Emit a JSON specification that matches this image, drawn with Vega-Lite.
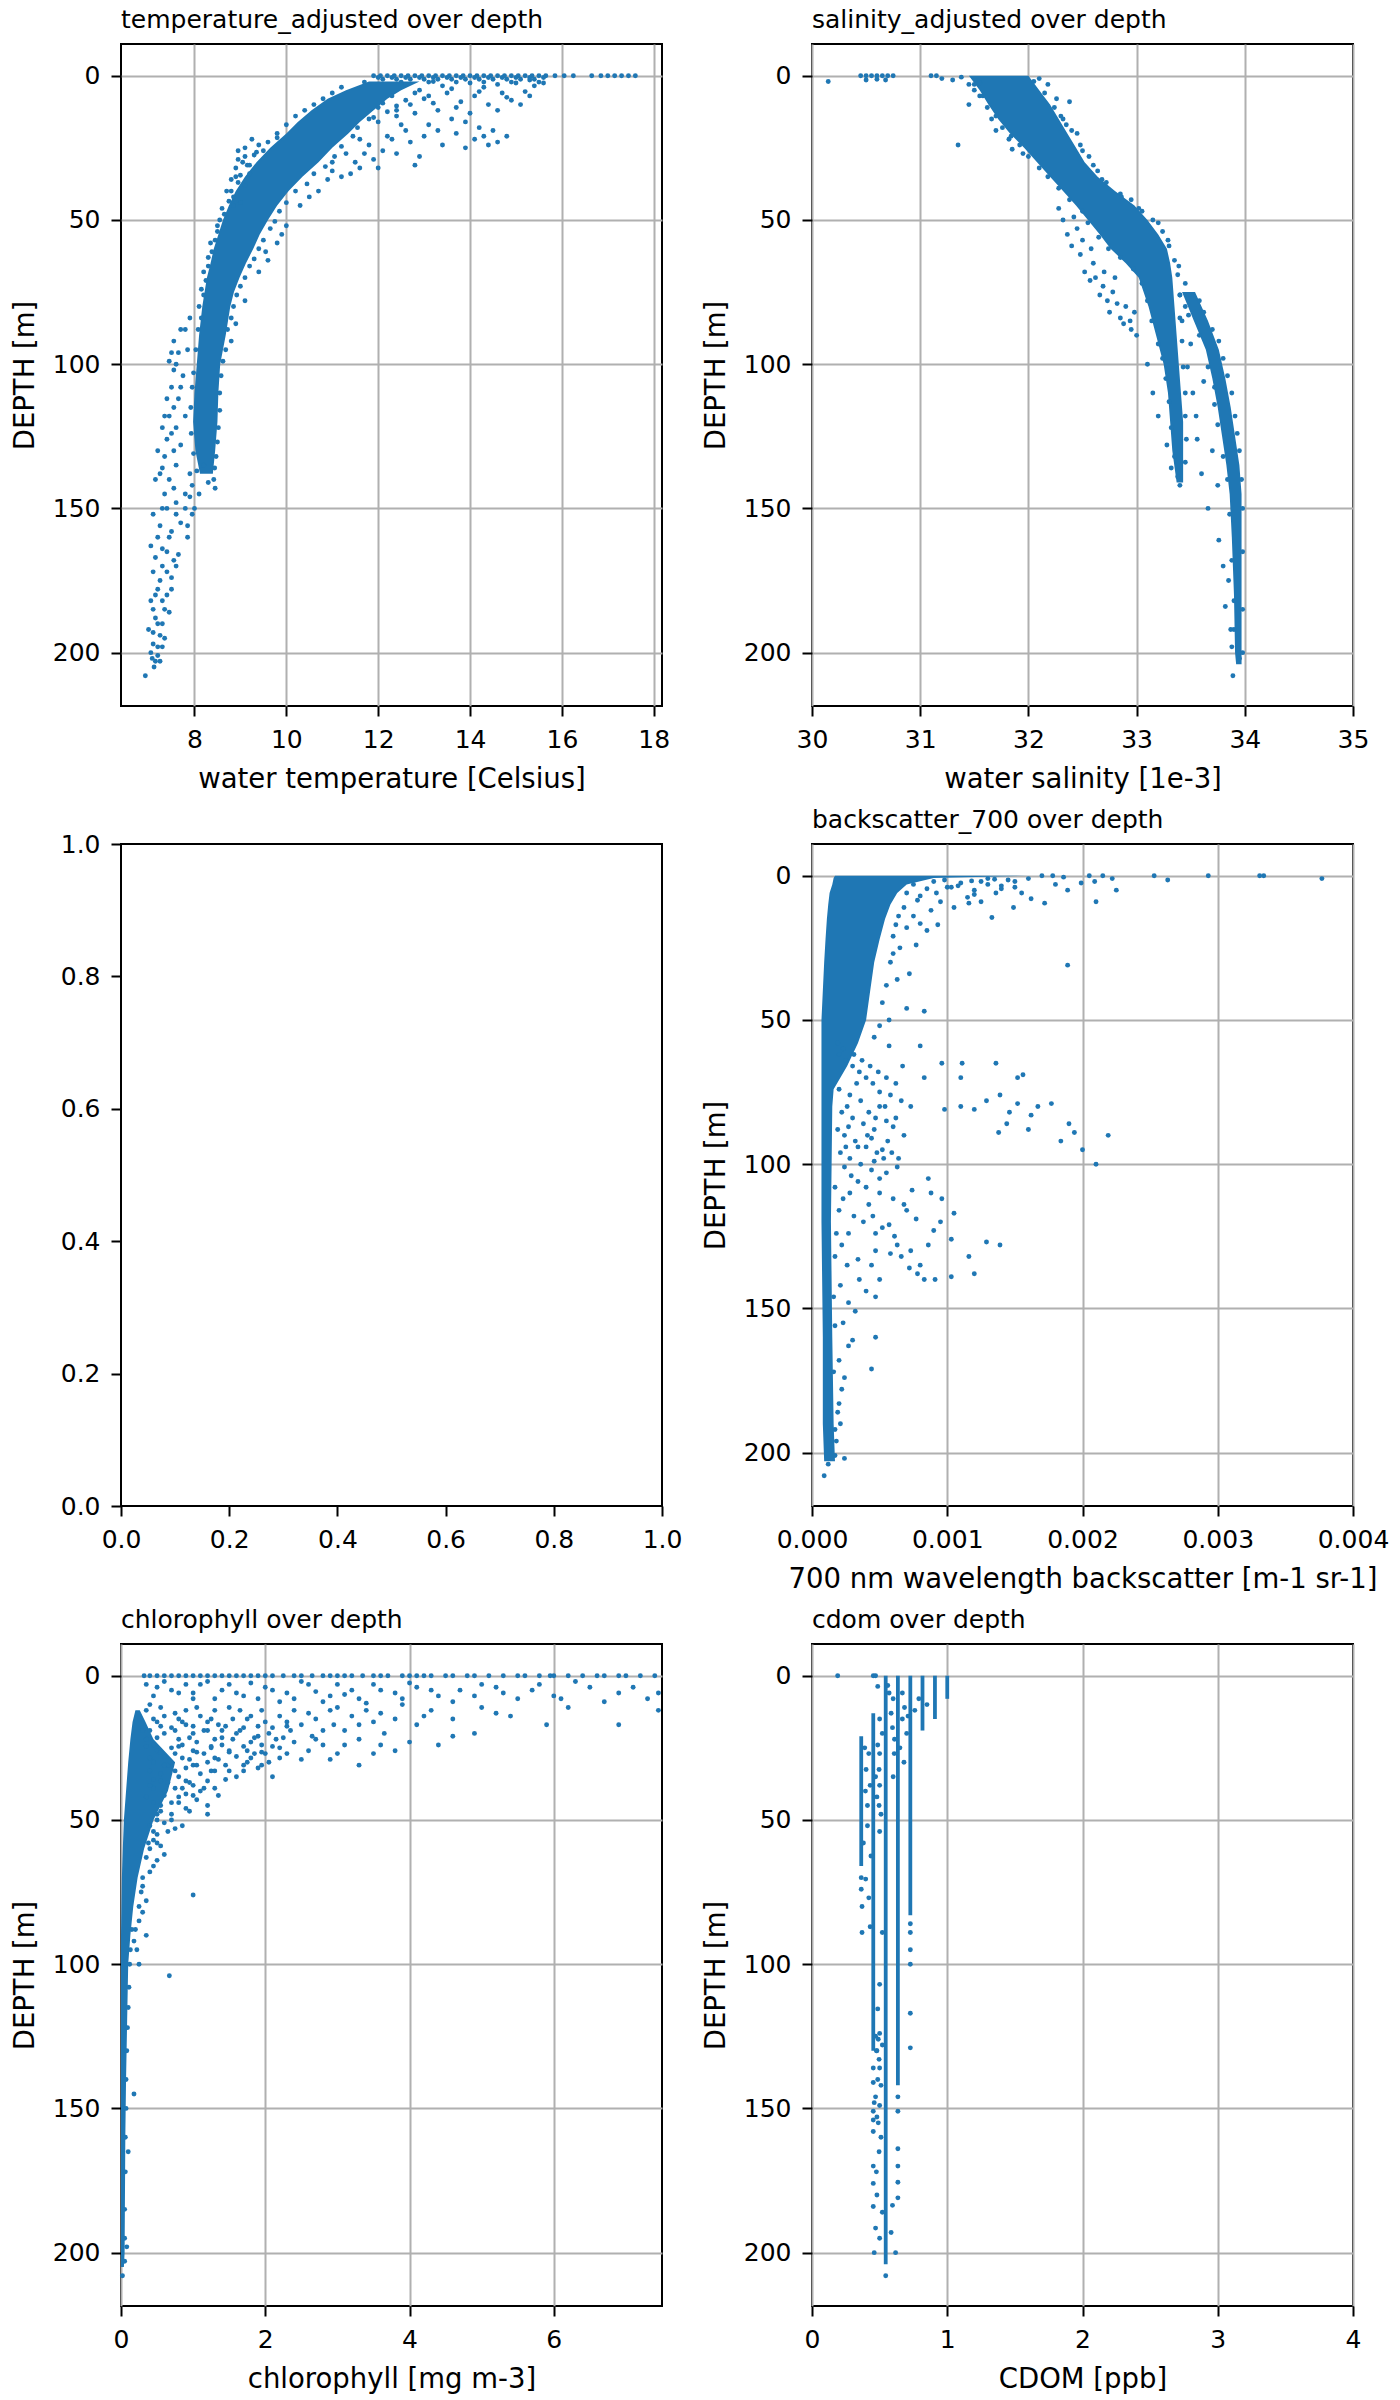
{
"$schema": "https://vega.github.io/schema/vega-lite/v6.json",
"background": "white",
"padding": {"left": 10, "top": 7, "right": 5, "bottom": 5},
"columns": 2,
"spacing": {"row": 138, "column": 150},
"bounds": "flush",
"datasets": {
"temp_band": [
{"s":"a","d":2,"lo":11.8,"hi":12.9},{"s":"a","d":5,"lo":11.3,"hi":12.5},{"s":"a","d":8,"lo":10.9,"hi":12.2},{"s":"a","d":12,"lo":10.55,"hi":11.9},{"s":"a","d":16,"lo":10.25,"hi":11.6},{"s":"a","d":20,"lo":10.0,"hi":11.35},{"s":"a","d":25,"lo":9.65,"hi":11.0},{"s":"a","d":30,"lo":9.35,"hi":10.7},{"s":"a","d":35,"lo":9.1,"hi":10.35},{"s":"a","d":40,"lo":8.9,"hi":10.05},{"s":"a","d":45,"lo":8.75,"hi":9.8},{"s":"a","d":50,"lo":8.62,"hi":9.6},{"s":"a","d":55,"lo":8.52,"hi":9.42},{"s":"a","d":60,"lo":8.42,"hi":9.28},{"s":"a","d":65,"lo":8.35,"hi":9.12},{"s":"a","d":70,"lo":8.27,"hi":8.98},{"s":"a","d":75,"lo":8.22,"hi":8.86},{"s":"a","d":80,"lo":8.17,"hi":8.78},{"s":"a","d":90,"lo":8.1,"hi":8.68},{"s":"a","d":100,"lo":8.05,"hi":8.56},{"s":"a","d":110,"lo":8.0,"hi":8.52},{"s":"a","d":120,"lo":7.97,"hi":8.5},{"s":"a","d":130,"lo":8.02,"hi":8.45},{"s":"a","d":138,"lo":8.12,"hi":8.4}
],
"temp_pts": [
{"v":11.9,"d":0},{"v":12.05,"d":0},{"v":12.2,"d":0},{"v":12.35,"d":0},{"v":12.5,"d":0},{"v":12.65,"d":0},{"v":12.8,"d":0},{"v":12.95,"d":0},{"v":13.1,"d":0},{"v":13.25,"d":0},{"v":13.4,"d":0},{"v":13.55,"d":0},{"v":13.7,"d":0},{"v":13.85,"d":0},{"v":14.0,"d":0},{"v":14.15,"d":0},{"v":14.3,"d":0},{"v":14.45,"d":0},{"v":14.6,"d":0},{"v":14.75,"d":0},{"v":14.9,"d":0},{"v":15.05,"d":0},{"v":15.2,"d":0},{"v":15.35,"d":0},{"v":15.5,"d":0},{"v":15.65,"d":0},{"v":15.85,"d":0},{"v":16.05,"d":0},{"v":16.25,"d":0},{"v":16.65,"d":0},{"v":16.85,"d":0},{"v":17.0,"d":0},{"v":17.15,"d":0},{"v":17.3,"d":0},{"v":17.45,"d":0},{"v":17.6,"d":0},
{"v":12.0,"d":0.6},{"v":12.3,"d":0.6},{"v":12.6,"d":0.6},{"v":12.9,"d":0.6},{"v":13.2,"d":0.6},{"v":13.5,"d":0.6},{"v":13.8,"d":0.6},{"v":14.1,"d":0.6},{"v":14.4,"d":0.6},{"v":14.7,"d":0.6},{"v":15.0,"d":0.6},{"v":15.3,"d":0.6},{"v":15.6,"d":0.6},
{"v":12.1,"d":1.2},{"v":12.4,"d":1.2},{"v":12.7,"d":1.2},{"v":13.0,"d":1.2},{"v":13.3,"d":1.2},{"v":13.6,"d":1.2},{"v":13.9,"d":1.2},{"v":14.2,"d":1.2},{"v":14.5,"d":1.2},{"v":14.8,"d":1.2},{"v":15.1,"d":1.2},{"v":15.4,"d":1.2},
{"v":11.7,"d":2.2},{"v":12.5,"d":2.2},{"v":13.1,"d":2.2},{"v":13.7,"d":2.2},{"v":14.3,"d":2.2},{"v":14.9,"d":2.2},{"v":15.5,"d":2.2},
{"v":12.9,"d":5},{"v":13.5,"d":6},{"v":14.1,"d":7},{"v":14.7,"d":6},{"v":15.2,"d":5.5},{"v":13.0,"d":8},{"v":13.8,"d":9},{"v":14.4,"d":10},{"v":12.7,"d":10},{"v":13.3,"d":12},{"v":14.9,"d":8.5},{"v":12.4,"d":12},{"v":12.6,"d":3},{"v":13.4,"d":3.5},{"v":14.0,"d":2.5},{"v":14.6,"d":3},{"v":15.0,"d":2.5},{"v":15.4,"d":3.5},{"v":14.3,"d":4},{"v":13.2,"d":2},{"v":15.3,"d":1.5},{"v":15.6,"d":2.5},{"v":12.3,"d":7},{"v":12.1,"d":9.5},
{"v":11.2,"d":4},{"v":11.0,"d":6},{"v":10.8,"d":8},{"v":10.6,"d":10},{"v":10.4,"d":12},{"v":12.8,"d":6},{"v":12.6,"d":8.5},{"v":12.4,"d":10.5},{"v":12.2,"d":12.5},{"v":11.9,"d":14.5},{"v":13.1,"d":7},{"v":13.6,"d":4.5},{"v":14.2,"d":5.5},{"v":14.8,"d":7.5},{"v":15.3,"d":7},{"v":13.7,"d":11},{"v":14.6,"d":12},{"v":15.1,"d":10},{"v":13.2,"d":9.5},
{"v":13.9,"d":16},{"v":14.2,"d":18},{"v":14.5,"d":19},{"v":14.8,"d":21},{"v":14.6,"d":23},{"v":14.3,"d":21},{"v":13.6,"d":15},{"v":13.1,"d":17},{"v":12.6,"d":19},{"v":12.3,"d":22},{"v":12.1,"d":26},{"v":12.9,"d":28},{"v":13.4,"d":24},{"v":11.8,"d":24},{"v":11.5,"d":30},{"v":11.2,"d":35},{"v":11.0,"d":33},{"v":11.7,"d":27},{"v":12.0,"d":16},{"v":12.4,"d":14},{"v":12.8,"d":13},{"v":13.3,"d":19},{"v":14.0,"d":13},
{"v":12.5,"d":17},{"v":12.2,"d":21},{"v":12.7,"d":23},{"v":11.9,"d":29},{"v":12.4,"d":27},{"v":11.6,"d":32},{"v":11.4,"d":34},{"v":12.0,"d":32},{"v":13.0,"d":21},{"v":13.7,"d":20},{"v":14.1,"d":22},{"v":14.4,"d":24},{"v":13.9,"d":25},{"v":12.8,"d":31},
{"v":11.0,"d":30},{"v":10.7,"d":40},{"v":10.3,"d":45},{"v":10.0,"d":52},{"v":9.8,"d":58},{"v":9.6,"d":64},{"v":9.4,"d":68},{"v":9.1,"d":78},{"v":8.9,"d":86},{"v":8.8,"d":92},{"v":11.6,"d":22},{"v":11.3,"d":27},{"v":10.9,"d":36},{"v":10.5,"d":42},{"v":9.9,"d":55},{"v":9.55,"d":61},
{"v":12.0,"d":11},{"v":11.8,"d":15},{"v":11.55,"d":18},{"v":11.45,"d":21},{"v":11.2,"d":24.5},{"v":11.05,"d":28},{"v":10.85,"d":31.5},{"v":10.6,"d":34},{"v":10.45,"d":37.5},{"v":10.2,"d":40},{"v":10.0,"d":44},{"v":9.85,"d":47},{"v":9.75,"d":50.5},{"v":9.65,"d":53},{"v":9.5,"d":57},{"v":9.4,"d":60},{"v":9.3,"d":63.5},{"v":9.2,"d":66},{"v":9.1,"d":70},{"v":9.0,"d":73},{"v":8.92,"d":76},{"v":8.85,"d":80},{"v":8.8,"d":84},{"v":8.72,"d":88},{"v":8.68,"d":95},{"v":8.62,"d":99},{"v":8.58,"d":104},{"v":8.55,"d":110},{"v":8.55,"d":116},{"v":8.52,"d":122},{"v":8.5,"d":127},{"v":8.47,"d":132},{"v":8.44,"d":136},{"v":8.42,"d":140},
{"v":9.8,"d":20},{"v":9.4,"d":24},{"v":9.1,"d":28},{"v":8.9,"d":32},{"v":8.8,"d":36},{"v":8.7,"d":40},{"v":8.6,"d":46},{"v":8.5,"d":52},{"v":8.35,"d":58},{"v":8.3,"d":63},{"v":8.2,"d":68},{"v":8.15,"d":74},{"v":8.1,"d":80},{"v":8.95,"d":26},{"v":9.05,"d":30},{"v":9.2,"d":34},{"v":8.85,"d":42},
{"v":10.2,"d":14},{"v":10.0,"d":17},{"v":9.8,"d":21.5},{"v":9.6,"d":23},{"v":9.5,"d":26},{"v":9.3,"d":27.5},{"v":9.15,"d":31},{"v":9.0,"d":34.5},{"v":8.95,"d":37},{"v":8.8,"d":40},{"v":8.75,"d":43.5},{"v":8.65,"d":48},{"v":8.55,"d":50},{"v":8.5,"d":54},{"v":8.45,"d":57},{"v":8.38,"d":61},{"v":8.3,"d":66},{"v":8.25,"d":71},{"v":8.2,"d":76},{"v":8.15,"d":84},{"v":8.08,"d":88},{"v":8.03,"d":95},{"v":7.98,"d":103},{"v":7.95,"d":108},{"v":7.92,"d":115},{"v":7.93,"d":124},{"v":7.98,"d":131},{"v":8.05,"d":137},
{"v":9.25,"d":22},{"v":9.1,"d":25},{"v":9.35,"d":26.5},{"v":8.95,"d":29},{"v":9.2,"d":31},{"v":8.9,"d":35},{"v":9.1,"d":38},{"v":8.85,"d":45},{"v":9.0,"d":44},
{"v":7.9,"d":84},{"v":7.7,"d":88},{"v":7.55,"d":92},{"v":7.5,"d":96},{"v":7.45,"d":99},{"v":7.6,"d":100},{"v":7.75,"d":104},{"v":7.5,"d":108},{"v":7.4,"d":112},{"v":7.65,"d":112},{"v":7.45,"d":118},{"v":7.3,"d":122},{"v":7.6,"d":122},{"v":7.4,"d":126},{"v":7.2,"d":130},{"v":7.55,"d":130},{"v":7.3,"d":136},{"v":7.15,"d":140},{"v":7.45,"d":140},{"v":7.9,"d":138},{"v":7.8,"d":145},{"v":7.6,"d":148},{"v":7.3,"d":150},{"v":7.1,"d":152},{"v":7.95,"d":152},{"v":7.7,"d":155},{"v":7.5,"d":158},{"v":7.2,"d":160},{"v":7.05,"d":163},{"v":7.4,"d":165},{"v":7.65,"d":166},{"v":7.3,"d":170},{"v":7.1,"d":172},{"v":7.5,"d":174},{"v":7.2,"d":178},{"v":7.05,"d":182},{"v":7.35,"d":185},{"v":7.15,"d":188},{"v":7.0,"d":192},{"v":7.25,"d":194},{"v":7.1,"d":197},{"v":7.05,"d":200},{"v":7.2,"d":201},{"v":7.15,"d":203},{"v":6.93,"d":208},{"v":7.3,"d":190},{"v":7.5,"d":178},{"v":7.85,"d":160},{"v":8.0,"d":150},{"v":7.95,"d":142},{"v":8.2,"d":135},{"v":8.3,"d":141},{"v":8.45,"d":143},{"v":8.1,"d":145},{"v":7.85,"d":95},{"v":7.8,"d":118},{"v":7.7,"d":128},{"v":7.6,"d":135},{"v":7.35,"d":145},{"v":7.25,"d":156},{"v":7.55,"d":168},{"v":7.4,"d":180},{"v":7.1,"d":185},{"v":7.3,"d":198},{"v":7.12,"d":205},
{"v":7.8,"d":88},{"v":7.65,"d":96},{"v":7.55,"d":102},{"v":7.7,"d":108},{"v":7.55,"d":115},{"v":7.35,"d":118},{"v":7.5,"d":124},{"v":7.35,"d":132},{"v":7.25,"d":138},{"v":7.55,"d":143},{"v":7.4,"d":150},{"v":7.6,"d":152},{"v":7.85,"d":156},{"v":7.45,"d":160},{"v":7.3,"d":164},{"v":7.15,"d":167},{"v":7.6,"d":170},{"v":7.4,"d":172},{"v":7.25,"d":175},{"v":7.15,"d":180},{"v":7.3,"d":182},{"v":7.45,"d":186},{"v":7.2,"d":190},{"v":7.1,"d":193},{"v":7.35,"d":195},{"v":7.2,"d":198},{"v":7.08,"d":202},{"v":7.25,"d":203},{"v":7.8,"d":150},{"v":7.9,"d":146}
],
"sal_band": [
{"s":"a","d":0,"lo":31.45,"hi":32.0},{"s":"a","d":5,"lo":31.55,"hi":32.1},{"s":"a","d":10,"lo":31.63,"hi":32.2},{"s":"a","d":15,"lo":31.72,"hi":32.28},{"s":"a","d":20,"lo":31.83,"hi":32.36},{"s":"a","d":25,"lo":31.96,"hi":32.44},{"s":"a","d":30,"lo":32.08,"hi":32.52},{"s":"a","d":35,"lo":32.2,"hi":32.64},{"s":"a","d":40,"lo":32.32,"hi":32.8},{"s":"a","d":45,"lo":32.44,"hi":32.98},{"s":"a","d":50,"lo":32.55,"hi":33.1},{"s":"a","d":55,"lo":32.66,"hi":33.2},{"s":"a","d":60,"lo":32.76,"hi":33.28},{"s":"a","d":65,"lo":32.9,"hi":33.31},{"s":"a","d":70,"lo":33.02,"hi":33.33},{"s":"a","d":80,"lo":33.11,"hi":33.35},{"s":"a","d":90,"lo":33.18,"hi":33.37},{"s":"a","d":100,"lo":33.25,"hi":33.39},{"s":"a","d":110,"lo":33.29,"hi":33.41},{"s":"a","d":120,"lo":33.31,"hi":33.43},{"s":"a","d":130,"lo":33.33,"hi":33.43},{"s":"a","d":141,"lo":33.37,"hi":33.43},
{"s":"b","d":75,"lo":33.42,"hi":33.54},{"s":"b","d":85,"lo":33.53,"hi":33.66},{"s":"b","d":95,"lo":33.64,"hi":33.76},{"s":"b","d":105,"lo":33.7,"hi":33.82},{"s":"b","d":115,"lo":33.75,"hi":33.87},{"s":"b","d":125,"lo":33.79,"hi":33.91},{"s":"b","d":135,"lo":33.83,"hi":33.95},{"s":"b","d":145,"lo":33.86,"hi":33.97},{"s":"b","d":160,"lo":33.88,"hi":33.97},{"s":"b","d":180,"lo":33.9,"hi":33.97},{"s":"b","d":200,"lo":33.91,"hi":33.97},{"s":"b","d":204,"lo":33.92,"hi":33.97}
],
"sal_pts": [
{"v":30.15,"d":2},{"v":30.45,"d":0},{"v":30.5,"d":0},{"v":30.55,"d":0},{"v":30.6,"d":0},{"v":30.65,"d":0},{"v":30.7,"d":0},{"v":30.75,"d":0},{"v":30.5,"d":1.5},{"v":30.6,"d":1.2},{"v":30.68,"d":1.5},{"v":31.1,"d":0},{"v":31.15,"d":0},{"v":31.2,"d":1},{"v":31.3,"d":1.5},{"v":31.38,"d":0.5},{"v":31.55,"d":2.5},{"v":31.45,"d":3},
{"v":31.45,"d":10},{"v":31.35,"d":24},{"v":31.82,"d":22},{"v":31.95,"d":27},{"v":31.66,"d":15},{"v":31.55,"d":7},{"v":31.7,"d":19},{"v":31.85,"d":25.5},{"v":31.5,"d":5},
{"v":32.26,"d":8},{"v":32.38,"d":9},{"v":32.3,"d":14},{"v":32.45,"d":20},{"v":32.5,"d":26},{"v":32.6,"d":31},{"v":32.68,"d":36},{"v":32.85,"d":41},{"v":33.2,"d":51},{"v":33.29,"d":57},{"v":33.39,"d":66},{"v":32.18,"d":3},{"v":32.1,"d":1},{"v":32.35,"d":17},{"v":33.05,"d":47},{"v":32.95,"d":43},
{"v":32.32,"d":50},{"v":32.4,"d":59},{"v":32.52,"d":68},{"v":32.69,"d":73},{"v":32.85,"d":84},{"v":32.94,"d":85},{"v":32.57,"d":71},{"v":32.36,"d":55},{"v":32.48,"d":62},{"v":32.73,"d":78},{"v":32.9,"d":80},{"v":32.45,"d":53},{"v":32.6,"d":65},{"v":32.78,"d":75},{"v":32.98,"d":82},
{"v":32.28,"d":46},{"v":32.42,"d":49},{"v":32.5,"d":57},{"v":32.58,"d":60},{"v":32.62,"d":70},{"v":32.7,"d":68},{"v":32.8,"d":70},{"v":32.82,"d":79},{"v":32.88,"d":86},{"v":32.95,"d":88},{"v":32.75,"d":82},{"v":32.66,"d":76},
{"v":33.56,"d":126},{"v":33.6,"d":138},{"v":33.66,"d":150},{"v":33.76,"d":161},{"v":33.8,"d":170},{"v":33.82,"d":184},{"v":33.87,"d":192},{"v":33.89,"d":208},{"v":33.52,"d":110},{"v":33.47,"d":101},{"v":33.72,"d":114},{"v":33.5,"d":93},{"v":33.45,"d":80},{"v":33.55,"d":118},{"v":33.62,"d":106},{"v":33.7,"d":130},{"v":33.75,"d":142},{"v":33.85,"d":175},{"v":33.88,"d":198},{"v":33.95,"d":202},
{"v":33.0,"d":90},{"v":33.1,"d":100},{"v":33.15,"d":110},{"v":33.2,"d":118},{"v":33.28,"d":128},{"v":33.32,"d":136},{"v":33.4,"d":142},{"v":33.45,"d":72},{"v":33.42,"d":85},
{"v":31.5,"d":3},{"v":31.58,"d":7},{"v":31.62,"d":11},{"v":31.7,"d":14},{"v":31.76,"d":18},{"v":31.84,"d":21},{"v":31.92,"d":24},{"v":32.0,"d":28},{"v":32.1,"d":32},{"v":32.18,"d":35},{"v":32.28,"d":39},{"v":32.38,"d":43},{"v":32.5,"d":47},{"v":32.55,"d":51},{"v":32.65,"d":56},{"v":32.74,"d":60},{"v":32.85,"d":63},{"v":32.97,"d":67},{"v":33.05,"d":72},{"v":33.1,"d":78},{"v":33.14,"d":85},{"v":33.2,"d":93},{"v":33.24,"d":98},{"v":33.27,"d":105},{"v":33.3,"d":113},{"v":33.32,"d":122},{"v":33.35,"d":132},{"v":33.38,"d":139},
{"v":32.05,"d":2},{"v":32.15,"d":6},{"v":32.24,"d":11},{"v":32.32,"d":15},{"v":32.4,"d":19},{"v":32.48,"d":24},{"v":32.56,"d":28},{"v":32.64,"d":33},{"v":32.72,"d":37},{"v":32.86,"d":42},{"v":33.02,"d":46},{"v":33.15,"d":50},{"v":33.24,"d":54},{"v":33.3,"d":59},{"v":33.35,"d":64},{"v":33.38,"d":69},{"v":33.4,"d":76},{"v":33.4,"d":84},{"v":33.42,"d":92},{"v":33.43,"d":101},{"v":33.45,"d":110},{"v":33.45,"d":118},{"v":33.46,"d":126},{"v":33.45,"d":134},
{"v":33.58,"d":78},{"v":33.62,"d":82},{"v":33.7,"d":88},{"v":33.76,"d":92},{"v":33.8,"d":98},{"v":33.84,"d":104},{"v":33.88,"d":110},{"v":33.91,"d":118},{"v":33.93,"d":124},{"v":33.95,"d":130},{"v":33.97,"d":140},{"v":33.98,"d":150},{"v":33.98,"d":165},{"v":33.98,"d":185},{"v":33.98,"d":200},{"v":33.4,"d":76},{"v":33.48,"d":83},{"v":33.58,"d":90},{"v":33.66,"d":101},{"v":33.72,"d":108},{"v":33.75,"d":121},{"v":33.8,"d":132},{"v":33.84,"d":140},{"v":33.86,"d":152},{"v":33.88,"d":168},{"v":33.9,"d":182},{"v":33.9,"d":192}
],
"bs_band": [
{"s":"a","d":0,"lo":0.00017,"hi":0.0016},{"s":"a","d":0.8,"lo":0.00016,"hi":0.0009},{"s":"a","d":3,"lo":0.00015,"hi":0.0007},{"s":"a","d":6,"lo":0.00013,"hi":0.00063},{"s":"a","d":10,"lo":0.00012,"hi":0.00058},{"s":"a","d":15,"lo":0.00011,"hi":0.00054},{"s":"a","d":22,"lo":0.0001,"hi":0.0005},{"s":"a","d":30,"lo":0.00009,"hi":0.00046},{"s":"a","d":40,"lo":0.00008,"hi":0.00043},{"s":"a","d":50,"lo":0.00007,"hi":0.0004},{"s":"a","d":58,"lo":0.00007,"hi":0.00034},{"s":"a","d":66,"lo":0.00007,"hi":0.00026},{"s":"a","d":74,"lo":0.00007,"hi":0.00016},{"s":"a","d":80,"lo":0.00007,"hi":0.00015},{"s":"a","d":120,"lo":0.00007,"hi":0.00014},{"s":"a","d":160,"lo":0.00008,"hi":0.00015},{"s":"a","d":190,"lo":0.00008,"hi":0.00016},{"s":"a","d":203,"lo":0.00009,"hi":0.00017}
],
"bs_pts": [
{"v":0.00057,"d":59},{"v":0.00067,"d":66},{"v":0.00083,"d":70},{"v":0.00096,"d":65},{"v":0.00111,"d":65},{"v":0.00136,"d":65},{"v":0.00152,"d":70},{"v":0.00156,"d":69},{"v":0.0011,"d":70},{"v":0.00073,"d":80},{"v":0.00098,"d":81},{"v":0.0011,"d":80},{"v":0.0012,"d":81},{"v":0.00129,"d":78},{"v":0.00139,"d":76},{"v":0.00146,"d":82},{"v":0.00152,"d":79},{"v":0.00162,"d":83},{"v":0.00167,"d":80},{"v":0.00177,"d":79},{"v":0.00144,"d":86},{"v":0.00138,"d":89},{"v":0.0016,"d":88},{"v":0.0019,"d":86},{"v":0.00194,"d":89},{"v":0.00184,"d":92},{"v":0.00219,"d":90},{"v":0.002,"d":95},{"v":0.0021,"d":100},{"v":0.00189,"d":31},
{"v":0.0005,"d":80},{"v":0.0006,"d":87},{"v":0.00044,"d":91},{"v":0.00053,"d":98},{"v":0.00063,"d":101},{"v":0.0005,"d":105},{"v":0.0004,"d":108},{"v":0.0006,"d":112},{"v":0.0007,"d":116},{"v":0.00077,"d":119},{"v":0.00086,"d":105},{"v":0.00096,"d":112},{"v":0.00105,"d":117},{"v":0.0009,"d":123},{"v":0.00103,"d":126},{"v":0.00116,"d":132},{"v":0.0012,"d":138},{"v":0.00129,"d":127},{"v":0.00139,"d":128},{"v":0.00073,"d":130},{"v":0.0008,"d":135},{"v":0.00083,"d":140},{"v":0.00103,"d":139},{"v":0.00091,"d":140},{"v":0.00063,"d":128},{"v":0.00057,"d":121},{"v":0.00047,"d":130},{"v":0.00034,"d":133},{"v":0.0005,"d":140},{"v":0.00027,"d":124},{"v":0.0002,"d":116},{"v":0.00017,"d":108},{"v":0.00024,"d":101},{"v":0.00034,"d":94},{"v":0.00027,"d":87},
{"v":0.0004,"d":144},{"v":0.00047,"d":146},{"v":0.00032,"d":151},{"v":0.00047,"d":160},{"v":0.00044,"d":171},{"v":0.0003,"d":161},{"v":0.00024,"d":174},{"v":0.0002,"d":183},{"v":0.00017,"d":192},{"v":0.00024,"d":202},{"v":0.00019,"d":186},{"v":0.00027,"d":163},{"v":0.00017,"d":156},{"v":0.00009,"d":208},{"v":0.00012,"d":204},{"v":0.00017,"d":201},
{"v":0.00222,"d":1},{"v":0.00225,"d":5},{"v":0.00253,"d":0},{"v":0.00263,"d":1.5},{"v":0.00293,"d":0},{"v":0.00331,"d":0},{"v":0.00334,"d":0},{"v":0.00377,"d":1},{"v":0.00209,"d":2},{"v":0.00199,"d":2.5},{"v":0.00172,"d":9.5},{"v":0.00189,"d":5},{"v":0.0021,"d":9},{"v":0.00162,"d":8},{"v":0.00133,"d":14.5},{"v":0.00149,"d":11},{"v":0.00116,"d":9.5},{"v":0.00093,"d":17},{"v":0.0008,"d":16.6},{"v":0.00072,"d":34},{"v":0.00063,"d":36},{"v":0.00083,"d":47},{"v":0.0007,"d":46},{"v":0.00057,"d":50},{"v":0.0008,"d":59},{"v":0.0006,"d":27},{"v":0.00077,"d":24},{"v":0.00103,"d":4},{"v":0.00136,"d":6},{"v":0.0017,"d":0},{"v":0.00178,"d":0},{"v":0.00186,"d":0.5},{"v":0.00205,"d":0},{"v":0.00215,"d":0},{"v":0.0018,"d":3},{"v":0.0014,"d":3.5},{"v":0.0012,"d":6.5},
{"v":0.0009,"d":2},{"v":0.001,"d":4},{"v":0.0011,"d":2.5},{"v":0.0012,"d":5},{"v":0.0013,"d":3},{"v":0.0014,"d":4.5},{"v":0.0015,"d":2},{"v":0.00155,"d":6},{"v":0.0008,"d":7},{"v":0.00095,"d":9},{"v":0.00105,"d":11},{"v":0.00115,"d":7.5},{"v":0.00125,"d":9},{"v":0.00088,"d":12},{"v":0.00075,"d":14},{"v":0.0007,"d":18},{"v":0.00085,"d":19},{"v":0.0006,"d":21},{"v":0.00065,"d":25},{"v":0.00058,"d":30},{"v":0.00055,"d":38},{"v":0.00052,"d":44},{"v":0.0005,"d":52},{"v":0.00046,"d":56},{"v":0.0016,"d":1},{"v":0.00145,"d":1.5},{"v":0.0013,"d":1},{"v":0.00118,"d":1.8},
{"v":0.00075,"d":3},{"v":0.00085,"d":4.5},{"v":0.0007,"d":6},{"v":0.00078,"d":8.5},{"v":0.00068,"d":11},{"v":0.00064,"d":14},{"v":0.00062,"d":17},{"v":0.00098,"d":1.5},{"v":0.00108,"d":3.5},{"v":0.00092,"d":6},{"v":0.00125,"d":2},{"v":0.00135,"d":1.2},{"v":0.0015,"d":4},
{"v":0.0002,"d":62},{"v":0.00025,"d":64},{"v":0.0003,"d":66},{"v":0.00035,"d":68},{"v":0.0004,"d":70},{"v":0.00045,"d":72},{"v":0.0002,"d":74},{"v":0.00028,"d":76},{"v":0.00036,"d":78},{"v":0.00042,"d":82},{"v":0.00022,"d":82},{"v":0.0003,"d":84},{"v":0.00038,"d":86},{"v":0.00046,"d":88},{"v":0.00024,"d":90},{"v":0.00032,"d":92},{"v":0.0004,"d":94},{"v":0.00048,"d":96},{"v":0.00028,"d":98},{"v":0.00036,"d":100},{"v":0.00044,"d":102},{"v":0.00052,"d":95},{"v":0.00055,"d":85},{"v":0.0005,"d":75},{"v":0.00033,"d":72},{"v":0.00026,"d":80},{"v":0.00041,"d":90},{"v":0.00034,"d":106},{"v":0.0005,"d":110},{"v":0.00042,"d":114},{"v":0.00028,"d":110},{"v":0.00038,"d":120},{"v":0.00047,"d":124},
{"v":0.00019,"d":58},{"v":0.00023,"d":60},{"v":0.00031,"d":62},{"v":0.00037,"d":64},{"v":0.00043,"d":66},{"v":0.00049,"d":68},{"v":0.00055,"d":70},{"v":0.00062,"d":72},{"v":0.00058,"d":76},{"v":0.00066,"d":78},{"v":0.00054,"d":80},{"v":0.00047,"d":84},{"v":0.00062,"d":84},{"v":0.00068,"d":90},{"v":0.00056,"d":92},{"v":0.00059,"d":96},{"v":0.00064,"d":98},{"v":0.00055,"d":103},{"v":0.00046,"d":99},{"v":0.00021,"d":96},{"v":0.00019,"d":88},{"v":0.00025,"d":94},{"v":0.00029,"d":104},{"v":0.00023,"d":112},{"v":0.00031,"d":118},{"v":0.00045,"d":118},{"v":0.00052,"d":122},{"v":0.00061,"d":125},{"v":0.00066,"d":132},{"v":0.00072,"d":136},{"v":0.00078,"d":138},{"v":0.00086,"d":128},{"v":0.00095,"d":120},{"v":0.00088,"d":110},{"v":0.00074,"d":109},{"v":0.00068,"d":114},{"v":0.00058,"d":131},{"v":0.00044,"d":135},{"v":0.00035,"d":140},{"v":0.00026,"d":135},{"v":0.00022,"d":128},{"v":0.00021,"d":142},{"v":0.00027,"d":148},{"v":0.00023,"d":155},{"v":0.0002,"d":168},{"v":0.00022,"d":178},{"v":0.00018,"d":196},{"v":0.00021,"d":190},{"v":0.00016,"d":172},{"v":0.00016,"d":146},{"v":0.00017,"d":132},{"v":0.00018,"d":124}
],
"chl_band": [
{"s":"a","d":12,"lo":0.2,"hi":0.26},{"s":"a","d":16,"lo":0.16,"hi":0.34},{"s":"a","d":22,"lo":0.13,"hi":0.45},{"s":"a","d":30,"lo":0.1,"hi":0.75},{"s":"a","d":40,"lo":0.07,"hi":0.65},{"s":"a","d":50,"lo":0.04,"hi":0.45},{"s":"a","d":60,"lo":0.025,"hi":0.32},{"s":"a","d":70,"lo":0.012,"hi":0.23},{"s":"a","d":80,"lo":0.006,"hi":0.17},{"s":"a","d":90,"lo":0.0,"hi":0.13},{"s":"a","d":100,"lo":0.0,"hi":0.1},{"s":"a","d":120,"lo":0.0,"hi":0.085},{"s":"a","d":140,"lo":0.0,"hi":0.07},{"s":"a","d":160,"lo":0.0,"hi":0.06},{"s":"a","d":200,"lo":0.0,"hi":0.05},{"s":"a","d":205,"lo":0.0,"hi":0.04}
],
"chl_pts": [
{"v":0.32,"d":0},{"v":0.4,"d":0},{"v":0.5,"d":0},{"v":0.6,"d":0},{"v":0.7,"d":0},{"v":0.8,"d":0},{"v":0.9,"d":0},{"v":1.0,"d":0},{"v":1.1,"d":0},{"v":1.2,"d":0},{"v":1.3,"d":0},{"v":1.4,"d":0},{"v":1.5,"d":0},{"v":1.6,"d":0},{"v":1.7,"d":0},{"v":1.8,"d":0},{"v":1.9,"d":0},{"v":2.0,"d":0},{"v":2.1,"d":0},{"v":2.25,"d":0},{"v":2.4,"d":0},{"v":2.5,"d":0},{"v":2.65,"d":0},{"v":2.8,"d":0},{"v":2.9,"d":0},{"v":3.0,"d":0},{"v":3.1,"d":0},{"v":3.2,"d":0},{"v":3.35,"d":0},{"v":3.5,"d":0},{"v":3.6,"d":0},{"v":3.7,"d":0},{"v":3.9,"d":0},{"v":4.0,"d":0},{"v":4.1,"d":0},{"v":4.2,"d":0},{"v":4.3,"d":0},{"v":4.5,"d":0},{"v":4.6,"d":0},{"v":4.8,"d":0},{"v":4.9,"d":0},{"v":5.1,"d":0},{"v":5.3,"d":0},{"v":5.5,"d":0},{"v":5.6,"d":0},{"v":5.8,"d":0},{"v":5.95,"d":0},{"v":6.0,"d":0},{"v":6.2,"d":0},{"v":6.4,"d":0},{"v":6.6,"d":0},{"v":6.7,"d":0},{"v":6.9,"d":0},{"v":7.0,"d":0},{"v":7.2,"d":0},{"v":7.4,"d":0},
{"v":0.5,"d":4},{"v":0.8,"d":6},{"v":1.1,"d":3},{"v":1.4,"d":5},{"v":1.7,"d":7},{"v":2.0,"d":4},{"v":2.3,"d":6},{"v":2.6,"d":3},{"v":2.9,"d":7},{"v":3.2,"d":5},{"v":3.5,"d":3},{"v":3.8,"d":6},{"v":4.1,"d":4},{"v":4.4,"d":7},{"v":4.7,"d":5},{"v":5.0,"d":3},{"v":5.3,"d":6},{"v":5.7,"d":5},{"v":6.1,"d":8},{"v":6.5,"d":4},{"v":6.9,"d":6},{"v":7.3,"d":8},{"v":7.45,"d":6},{"v":1.0,"d":8},{"v":2.2,"d":9},{"v":3.3,"d":8},
{"v":0.35,"d":3},{"v":0.45,"d":7},{"v":0.6,"d":2},{"v":0.7,"d":5},{"v":0.9,"d":3},{"v":1.0,"d":6},{"v":1.2,"d":2},{"v":1.3,"d":8},{"v":1.5,"d":3},{"v":1.6,"d":6},{"v":1.8,"d":2.5},{"v":1.9,"d":8},{"v":2.1,"d":5},{"v":2.4,"d":8},{"v":2.5,"d":2},{"v":2.7,"d":5.5},{"v":2.8,"d":9},{"v":3.0,"d":3},{"v":3.1,"d":6.5},{"v":3.4,"d":9.5},{"v":3.6,"d":5},{"v":3.9,"d":8},{"v":4.0,"d":2.5},{"v":4.3,"d":5},{"v":4.6,"d":9},{"v":4.9,"d":7},{"v":5.2,"d":4},{"v":5.5,"d":8},{"v":5.8,"d":3},{"v":6.0,"d":7},{"v":6.3,"d":2},{"v":6.7,"d":9},{"v":7.1,"d":4},
{"v":0.4,"d":10},{"v":0.6,"d":14},{"v":0.9,"d":12},{"v":1.2,"d":16},{"v":1.5,"d":11},{"v":1.8,"d":14},{"v":2.1,"d":18},{"v":2.4,"d":12},{"v":2.7,"d":15},{"v":3.0,"d":11},{"v":3.3,"d":17},{"v":3.6,"d":13},{"v":3.9,"d":10},{"v":4.3,"d":12},{"v":4.6,"d":15},{"v":5.0,"d":11},{"v":5.4,"d":14},{"v":5.9,"d":17},{"v":6.9,"d":17},{"v":7.45,"d":12},{"v":0.7,"d":18},{"v":1.0,"d":20},{"v":1.4,"d":19},{"v":1.9,"d":21},{"v":2.3,"d":16},{"v":2.8,"d":19},{"v":3.2,"d":14},{"v":0.5,"d":16},{"v":4.6,"d":21},{"v":4.9,"d":20},{"v":5.2,"d":13},{"v":6.2,"d":11},
{"v":0.35,"d":12},{"v":0.55,"d":11},{"v":0.75,"d":13},{"v":0.85,"d":16},{"v":1.05,"d":11},{"v":1.1,"d":14},{"v":1.3,"d":12},{"v":1.35,"d":17},{"v":1.55,"d":15},{"v":1.65,"d":12},{"v":1.7,"d":18},{"v":1.95,"d":12},{"v":2.0,"d":16},{"v":2.2,"d":14},{"v":2.35,"d":19},{"v":2.5,"d":17},{"v":2.6,"d":13},{"v":2.9,"d":12},{"v":2.95,"d":17},{"v":3.1,"d":19},{"v":3.4,"d":12},{"v":3.5,"d":16},{"v":3.8,"d":15},{"v":4.1,"d":17},{"v":4.2,"d":14},{"v":0.4,"d":19},{"v":0.6,"d":20},{"v":0.9,"d":17},{"v":1.15,"d":19},{"v":1.6,"d":20},{"v":2.05,"d":20},{"v":2.65,"d":21},{"v":3.65,"d":20},
{"v":0.45,"d":24},{"v":0.6,"d":28},{"v":0.8,"d":22},{"v":1.0,"d":26},{"v":1.2,"d":30},{"v":1.4,"d":24},{"v":1.6,"d":28},{"v":1.8,"d":23},{"v":2.0,"d":27},{"v":2.2,"d":25},{"v":2.5,"d":29},{"v":2.8,"d":24},{"v":3.0,"d":27},{"v":3.3,"d":31},{"v":3.6,"d":24},{"v":4.0,"d":23},{"v":4.4,"d":24},{"v":1.1,"d":34},{"v":1.5,"d":33},{"v":1.9,"d":32},{"v":2.1,"d":35},{"v":0.9,"d":32},{"v":0.55,"d":34},{"v":0.7,"d":25},{"v":1.3,"d":22},{"v":1.75,"d":26},
{"v":0.35,"d":22},{"v":0.5,"d":26},{"v":0.65,"d":31},{"v":0.75,"d":27},{"v":0.85,"d":24},{"v":0.95,"d":29},{"v":1.05,"d":23},{"v":1.15,"d":27},{"v":1.25,"d":25},{"v":1.35,"d":29},{"v":1.5,"d":26},{"v":1.55,"d":22},{"v":1.7,"d":31},{"v":1.85,"d":27},{"v":1.95,"d":24},{"v":2.05,"d":30},{"v":2.15,"d":22},{"v":2.3,"d":27},{"v":2.4,"d":23},{"v":2.6,"d":26},{"v":2.7,"d":22},{"v":2.9,"d":29},{"v":3.1,"d":24},{"v":3.3,"d":22},{"v":3.5,"d":27},{"v":3.8,"d":26},{"v":1.25,"d":33},{"v":1.6,"d":35},{"v":1.75,"d":30},{"v":0.8,"d":35},{"v":1.0,"d":31},{"v":0.45,"d":30},
{"v":0.45,"d":15},{"v":0.8,"d":15},{"v":1.25,"d":15},{"v":1.75,"d":15},{"v":0.55,"d":17.5},{"v":1.0,"d":17.5},{"v":1.45,"d":17.5},{"v":1.9,"d":17.5},{"v":2.3,"d":17.5},{"v":0.3,"d":19},{"v":0.75,"d":19},{"v":1.2,"d":19},{"v":1.65,"d":19},{"v":0.5,"d":21.5},{"v":0.95,"d":21.5},{"v":1.4,"d":21.5},{"v":1.85,"d":21.5},{"v":2.25,"d":21.5},{"v":0.35,"d":24.5},{"v":0.8,"d":24.5},{"v":1.25,"d":24.5},{"v":1.7,"d":24.5},{"v":2.1,"d":24.5},{"v":0.55,"d":26.5},{"v":1.05,"d":26.5},{"v":1.5,"d":26.5},{"v":1.95,"d":26.5},{"v":0.4,"d":28.5},{"v":0.85,"d":28.5},{"v":1.3,"d":28.5},{"v":1.8,"d":28.5},{"v":2.2,"d":28.5},{"v":0.6,"d":31},{"v":1.05,"d":31},{"v":1.45,"d":31},{"v":1.95,"d":31},{"v":0.4,"d":33},{"v":0.75,"d":33},{"v":1.3,"d":33},{"v":1.7,"d":33},{"v":0.55,"d":36.5},{"v":0.9,"d":36.5},{"v":1.2,"d":36.5},{"v":0.45,"d":39},{"v":0.85,"d":39},{"v":1.15,"d":39},{"v":0.6,"d":41.5},{"v":1.0,"d":41.5},{"v":1.35,"d":41.5},{"v":0.45,"d":44},{"v":0.8,"d":44},{"v":0.55,"d":47},{"v":0.95,"d":47},{"v":0.5,"d":50},{"v":0.7,"d":50},{"v":0.45,"d":54},{"v":0.65,"d":54},{"v":0.38,"d":58},{"v":0.5,"d":58},
{"v":0.4,"d":38},{"v":0.6,"d":40},{"v":0.8,"d":42},{"v":1.0,"d":38},{"v":1.2,"d":45},{"v":1.45,"d":36},{"v":0.9,"d":46},{"v":0.55,"d":45},{"v":0.7,"d":48},{"v":1.2,"d":48},{"v":0.85,"d":52},{"v":0.5,"d":55},{"v":0.4,"d":60},{"v":0.6,"d":62},{"v":0.3,"d":70},{"v":0.35,"d":78},{"v":0.25,"d":85},{"v":0.22,"d":95},{"v":0.35,"d":90},{"v":0.28,"d":75},{"v":0.45,"d":66},
{"v":0.35,"d":42},{"v":0.45,"d":36},{"v":0.5,"d":48},{"v":0.65,"d":37},{"v":0.7,"d":44},{"v":0.75,"d":39},{"v":0.9,"d":41},{"v":0.95,"d":37},{"v":1.05,"d":43},{"v":1.1,"d":40},{"v":1.3,"d":39},{"v":0.6,"d":51},{"v":0.75,"d":53},{"v":0.4,"d":52},{"v":0.45,"d":57},{"v":0.55,"d":59},{"v":0.35,"d":63},{"v":0.5,"d":64},{"v":0.4,"d":68},{"v":0.3,"d":73},{"v":0.25,"d":80},{"v":0.2,"d":88},{"v":0.3,"d":82},{"v":0.18,"d":92},
{"v":0.12,"d":100},{"v":0.11,"d":108},{"v":0.1,"d":115},{"v":0.09,"d":122},{"v":0.08,"d":130},{"v":0.07,"d":140},{"v":0.07,"d":150},{"v":0.06,"d":160},{"v":0.06,"d":172},{"v":0.05,"d":185},{"v":0.05,"d":195},{"v":0.05,"d":203},{"v":0.13,"d":95},{"v":0.15,"d":88},
{"v":1.0,"d":76},{"v":0.67,"d":104},{"v":0.25,"d":100},{"v":0.18,"d":145},{"v":0.1,"d":165},{"v":0.08,"d":198},{"v":0.02,"d":208}
],
"cdom_band": [
{"s":"a","d":21,"lo":0.35,"hi":0.378},{"s":"a","d":66,"lo":0.35,"hi":0.378},
{"s":"b","d":13,"lo":0.439,"hi":0.467},{"s":"b","d":130,"lo":0.439,"hi":0.467},
{"s":"c","d":0,"lo":0.531,"hi":0.559},{"s":"c","d":204,"lo":0.531,"hi":0.559},
{"s":"d","d":0,"lo":0.621,"hi":0.649},{"s":"d","d":142,"lo":0.621,"hi":0.649},
{"s":"e","d":0,"lo":0.713,"hi":0.741},{"s":"e","d":83,"lo":0.713,"hi":0.741},
{"s":"f","d":0,"lo":0.803,"hi":0.831},{"s":"f","d":19,"lo":0.803,"hi":0.831},
{"s":"g","d":0,"lo":0.895,"hi":0.923},{"s":"g","d":15,"lo":0.895,"hi":0.923},
{"s":"h","d":0,"lo":0.986,"hi":1.014},{"s":"h","d":8,"lo":0.986,"hi":1.014}
],
"cdom_pts": [
{"v":0.19,"d":0},{"v":0.453,"d":0},{"v":0.47,"d":0},{"v":0.486,"d":3.7},{"v":0.56,"d":3.4},{"v":0.57,"d":6},{"v":0.668,"d":6},
{"v":0.42,"d":27},{"v":0.4,"d":32.5},{"v":0.43,"d":38},{"v":0.41,"d":45},{"v":0.486,"d":24},{"v":0.5,"d":27},{"v":0.52,"d":20},{"v":0.496,"d":32.5},{"v":0.585,"d":13},{"v":0.595,"d":18},{"v":0.608,"d":27},{"v":0.668,"d":15},{"v":0.684,"d":11},{"v":0.7,"d":20},
{"v":0.436,"d":62.5},{"v":0.397,"d":70.5},{"v":0.42,"d":77},{"v":0.37,"d":80},{"v":0.37,"d":89},{"v":0.43,"d":87},{"v":0.5,"d":54},{"v":0.496,"d":45},{"v":0.52,"d":89},{"v":0.5,"d":107},{"v":0.486,"d":115.5},{"v":0.5,"d":124},{"v":0.476,"d":130},{"v":0.496,"d":133},{"v":0.52,"d":128},{"v":0.486,"d":140},{"v":0.47,"d":146},{"v":0.453,"d":151},{"v":0.453,"d":154},{"v":0.48,"d":153},{"v":0.5,"d":149},{"v":0.496,"d":165},{"v":0.453,"d":170},{"v":0.476,"d":172},{"v":0.453,"d":176},{"v":0.453,"d":184},{"v":0.47,"d":191.5},{"v":0.453,"d":136},{"v":0.453,"d":141},{"v":0.453,"d":158},
{"v":0.595,"d":183.6},{"v":0.635,"d":181},{"v":0.635,"d":175.6},{"v":0.635,"d":170},{"v":0.635,"d":164},{"v":0.635,"d":151},{"v":0.618,"d":200},{"v":0.585,"d":193},{"v":0.545,"d":208},{"v":0.635,"d":146},
{"v":0.727,"d":117},{"v":0.727,"d":129},{"v":0.727,"d":100},{"v":0.727,"d":95},{"v":0.727,"d":89},{"v":0.727,"d":86},{"v":0.364,"d":70},{"v":0.364,"d":74},
{"v":0.39,"d":25},{"v":0.395,"d":40},{"v":0.41,"d":52},{"v":0.38,"d":58},{"v":0.47,"d":35},{"v":0.48,"d":42},{"v":0.5,"d":38},{"v":0.51,"d":48},{"v":0.6,"d":35},{"v":0.61,"d":22},{"v":0.65,"d":25},{"v":0.68,"d":30},{"v":0.71,"d":14},{"v":0.76,"d":12},{"v":0.79,"d":8},{"v":0.85,"d":10},{"v":0.6,"d":8},{"v":0.5,"d":15},{"v":0.48,"d":130},{"v":0.49,"d":126},{"v":0.5,"d":136},{"v":0.51,"d":142},{"v":0.47,"d":125},{"v":0.46,"d":148},{"v":0.49,"d":155},{"v":0.51,"d":160},{"v":0.48,"d":180},{"v":0.52,"d":186},{"v":0.5,"d":195},{"v":0.46,"d":200}
]
},
"concat": [
{
"title": {"text": "temperature_adjusted over depth"},
"width": 541, "height": 662,
"layer": [
{"data": {"name": "temp_band"}, "mark": {"type": "area", "orient": "horizontal", "color": "#1f77b4", "opacity": 1},
 "encoding": {
  "y": {"field": "d", "type": "quantitative", "scale": {"domain": [-11, 218.5], "reverse": true, "nice": false, "zero": false}, "axis": {"values": [0,50,100,150,200], "title": "DEPTH [m]"}},
  "x": {"field": "lo", "type": "quantitative", "scale": {"domain": [6.4, 18.18], "nice": false, "zero": false}, "axis": {"values": [8,10,12,14,16,18], "title": "water temperature [Celsius]"}},
  "x2": {"field": "hi"},
  "detail": {"field": "s"}}},
{"data": {"name": "temp_pts"}, "mark": {"type": "circle", "size": 24, "color": "#1f77b4", "opacity": 1},
 "encoding": {
  "y": {"field": "d", "type": "quantitative", "scale": {"domain": [-11, 218.5], "reverse": true, "nice": false, "zero": false}, "axis": {"values": [0,50,100,150,200], "title": "DEPTH [m]"}},
  "x": {"field": "v", "type": "quantitative", "scale": {"domain": [6.4, 18.18], "nice": false, "zero": false}, "axis": {"values": [8,10,12,14,16,18], "title": "water temperature [Celsius]"}}}}
]
},
{
"title": {"text": "salinity_adjusted over depth"},
"width": 541, "height": 662,
"layer": [
{"data": {"name": "sal_band"}, "mark": {"type": "area", "orient": "horizontal", "color": "#1f77b4", "opacity": 1},
 "encoding": {
  "y": {"field": "d", "type": "quantitative", "scale": {"domain": [-11, 218.5], "reverse": true, "nice": false, "zero": false}, "axis": {"values": [0,50,100,150,200], "title": "DEPTH [m]"}},
  "x": {"field": "lo", "type": "quantitative", "scale": {"domain": [30, 35], "nice": false, "zero": false}, "axis": {"values": [30,31,32,33,34,35], "title": "water salinity [1e-3]"}},
  "x2": {"field": "hi"},
  "detail": {"field": "s"}}},
{"data": {"name": "sal_pts"}, "mark": {"type": "circle", "size": 24, "color": "#1f77b4", "opacity": 1},
 "encoding": {
  "y": {"field": "d", "type": "quantitative", "scale": {"domain": [-11, 218.5], "reverse": true, "nice": false, "zero": false}, "axis": {"values": [0,50,100,150,200], "title": "DEPTH [m]"}},
  "x": {"field": "v", "type": "quantitative", "scale": {"domain": [30, 35], "nice": false, "zero": false}, "axis": {"values": [30,31,32,33,34,35], "title": "water salinity [1e-3]"}}}}
]
},
{
"width": 541, "height": 662,
"data": {"values": []},
"mark": {"type": "point"},
"encoding": {
 "x": {"field": "x", "type": "quantitative", "scale": {"domain": [0, 1], "nice": false, "zero": false}, "axis": {"values": [0,0.2,0.4,0.6,0.8,1], "format": ".1f", "title": null, "grid": false}},
 "y": {"field": "y", "type": "quantitative", "scale": {"domain": [0, 1], "nice": false, "zero": false}, "axis": {"values": [0,0.2,0.4,0.6,0.8,1], "format": ".1f", "title": null, "grid": false}}
}
},
{
"title": {"text": "backscatter_700 over depth"},
"width": 541, "height": 662,
"layer": [
{"data": {"name": "bs_band"}, "mark": {"type": "area", "orient": "horizontal", "color": "#1f77b4", "opacity": 1},
 "encoding": {
  "y": {"field": "d", "type": "quantitative", "scale": {"domain": [-11, 218.5], "reverse": true, "nice": false, "zero": false}, "axis": {"values": [0,50,100,150,200], "title": "DEPTH [m]"}},
  "x": {"field": "lo", "type": "quantitative", "scale": {"domain": [0, 0.004], "nice": false, "zero": false}, "axis": {"values": [0,0.001,0.002,0.003,0.004], "format": ".3f", "title": "700 nm wavelength backscatter [m-1 sr-1]"}},
  "x2": {"field": "hi"},
  "detail": {"field": "s"}}},
{"data": {"name": "bs_pts"}, "mark": {"type": "circle", "size": 24, "color": "#1f77b4", "opacity": 1},
 "encoding": {
  "y": {"field": "d", "type": "quantitative", "scale": {"domain": [-11, 218.5], "reverse": true, "nice": false, "zero": false}, "axis": {"values": [0,50,100,150,200], "title": "DEPTH [m]"}},
  "x": {"field": "v", "type": "quantitative", "scale": {"domain": [0, 0.004], "nice": false, "zero": false}, "axis": {"values": [0,0.001,0.002,0.003,0.004], "format": ".3f", "title": "700 nm wavelength backscatter [m-1 sr-1]"}}}}
]
},
{
"title": {"text": "chlorophyll over depth"},
"width": 541, "height": 662,
"layer": [
{"data": {"name": "chl_band"}, "mark": {"type": "area", "orient": "horizontal", "color": "#1f77b4", "opacity": 1},
 "encoding": {
  "y": {"field": "d", "type": "quantitative", "scale": {"domain": [-11, 218.5], "reverse": true, "nice": false, "zero": false}, "axis": {"values": [0,50,100,150,200], "title": "DEPTH [m]"}},
  "x": {"field": "lo", "type": "quantitative", "scale": {"domain": [0, 7.5], "nice": false, "zero": false}, "axis": {"values": [0,2,4,6], "title": "chlorophyll [mg m-3]"}},
  "x2": {"field": "hi"},
  "detail": {"field": "s"}}},
{"data": {"name": "chl_pts"}, "mark": {"type": "circle", "size": 24, "color": "#1f77b4", "opacity": 1},
 "encoding": {
  "y": {"field": "d", "type": "quantitative", "scale": {"domain": [-11, 218.5], "reverse": true, "nice": false, "zero": false}, "axis": {"values": [0,50,100,150,200], "title": "DEPTH [m]"}},
  "x": {"field": "v", "type": "quantitative", "scale": {"domain": [0, 7.5], "nice": false, "zero": false}, "axis": {"values": [0,2,4,6], "title": "chlorophyll [mg m-3]"}}}}
]
},
{
"title": {"text": "cdom over depth"},
"width": 541, "height": 662,
"layer": [
{"data": {"name": "cdom_band"}, "mark": {"type": "area", "orient": "horizontal", "color": "#1f77b4", "opacity": 1},
 "encoding": {
  "y": {"field": "d", "type": "quantitative", "scale": {"domain": [-11, 218.5], "reverse": true, "nice": false, "zero": false}, "axis": {"values": [0,50,100,150,200], "title": "DEPTH [m]"}},
  "x": {"field": "lo", "type": "quantitative", "scale": {"domain": [0, 4], "nice": false, "zero": false}, "axis": {"values": [0,1,2,3,4], "title": "CDOM [ppb]"}},
  "x2": {"field": "hi"},
  "detail": {"field": "s"}}},
{"data": {"name": "cdom_pts"}, "mark": {"type": "circle", "size": 24, "color": "#1f77b4", "opacity": 1},
 "encoding": {
  "y": {"field": "d", "type": "quantitative", "scale": {"domain": [-11, 218.5], "reverse": true, "nice": false, "zero": false}, "axis": {"values": [0,50,100,150,200], "title": "DEPTH [m]"}},
  "x": {"field": "v", "type": "quantitative", "scale": {"domain": [0, 4], "nice": false, "zero": false}, "axis": {"values": [0,1,2,3,4], "title": "CDOM [ppb]"}}}}
]
}
],
"config": {
 "font": "DejaVu Sans",
 "view": {"stroke": "black", "strokeWidth": 2},
 "axis": {"domain": false, "grid": true, "gridColor": "#b0b0b0", "gridWidth": 2, "gridOpacity": 1, "ticks": true, "tickColor": "black", "tickSize": 10, "tickWidth": 2, "labelFont": "DejaVu Sans", "labelFontSize": 25, "labelColor": "black", "labelPadding": 11, "labelFlush": false, "labelOverlap": false, "titleFont": "DejaVu Sans", "titleFontSize": 27.5, "titleFontWeight": "normal", "titleColor": "black", "titlePadding": 13},
 "title": {"font": "DejaVu Sans", "fontSize": 25, "fontWeight": "normal", "color": "black", "anchor": "start", "frame": "group", "baseline": "alphabetic", "offset": 11}
}
}
